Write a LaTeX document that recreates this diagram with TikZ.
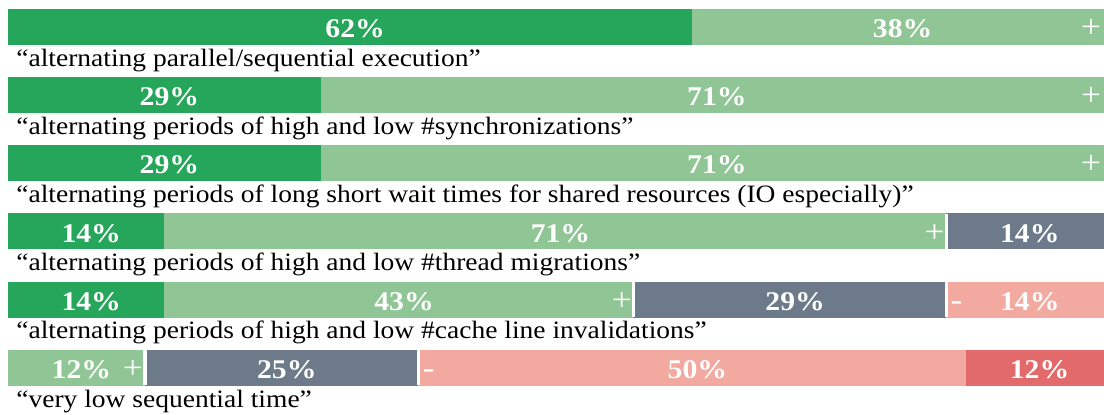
\documentclass[tikz,border=0pt]{standalone}
\usepackage{fontspec}
\setmainfont{Liberation Serif}[FakeStretch=1.1]
\usetikzlibrary{positioning}

\definecolor{posdark}{HTML}{26A65B}
\definecolor{poslight}{HTML}{90C695}
\definecolor{neutral}{HTML}{6C7A89}
\definecolor{neglight}{HTML}{F1A9A0}
\definecolor{negdark}{HTML}{E26A6A}

\begin{document}
\begin{tikzpicture}[x=0.5pt,y=-0.5pt]
  \tikzstyle{seg}=[anchor=west,inner sep=0pt,outer sep=0pt,line width=0.3pt,
    minimum height=17.5pt,text=white,text height=11pt,text depth=0pt,
    execute at begin node=\hspace*{5pt},
    font=\fontsize{13.5}{15}\selectfont\bfseries]
  \tikzstyle{pd}=[seg,fill=posdark,draw=posdark]
  \tikzstyle{pl}=[seg,fill=poslight,draw=poslight]
  \tikzstyle{nt}=[seg,fill=neutral,draw=neutral]
  \tikzstyle{nl}=[seg,fill=neglight,draw=neglight]
  \tikzstyle{nd}=[seg,fill=negdark,draw=negdark]
  \tikzstyle{sign}=[inner sep=0pt,minimum height=17.5pt,text=white,
    text height=11pt,text depth=0pt,font=\fontsize{16}{18}\selectfont]
  \tikzstyle{quote}=[anchor=base west,inner sep=0pt,font=\fontsize{12.5}{14}\selectfont]
  \tikzstyle{gap}=[draw=white,line width=1.75pt]
  \useasboundingbox (0,0) rectangle (1104,414);

  % parallel/sequential
  \node [pd,minimum width=342.19pt] (a1) at (8,26.5) {62\%};
  \node [pl,minimum width=205.31pt,right=0pt of a1] (a2) {38\%};
  \node [sign,xshift=-6pt] (a2p) at (a2.east) {+};
  \node [quote] (qa) at (16,66) {``alternating parallel/sequential execution''};

  % synchronizations
  \node [pd,minimum width=156.43pt] (b1) at (8,94.7) {29\%};
  \node [pl,minimum width=391.07pt,right=0pt of b1] (b2) {71\%};
  \node [sign,xshift=-6pt] (b2p) at (b2.east) {+};
  \node [quote] (qb) at (16,134.2) {``alternating periods of high and low \#synchronizations''};

  % wait times
  \node [pd,minimum width=156.43pt] (c1) at (8,162.9) {29\%};
  \node [pl,minimum width=391.07pt,right=0pt of c1] (c2) {71\%};
  \node [sign,xshift=-6pt] (c2p) at (c2.east) {+};
  \node [quote] (qc) at (16,202.4) {``alternating periods of long short wait times for shared resources (IO especially)''};

  % thread migrations
  \node [pd,minimum width=78.21pt] (d1) at (8,231.1) {14\%};
  \node [pl,minimum width=391.07pt,right=0pt of d1] (d2) {71\%};
  \node [nt,minimum width=78.21pt,right=0pt of d2] (d3) {14\%};
  \node [sign,xshift=-6pt] (d2p) at (d2.east) {+};
  \draw [gap] (d2.north east) -- (d2.south east);
  \node [quote] (qd) at (16,270.6) {``alternating periods of high and low \#thread migrations''};

  % cache line invalidations
  \node [pd,minimum width=78.21pt] (e1) at (8,299.3) {14\%};
  \node [pl,minimum width=234.64pt,right=0pt of e1] (e2) {43\%};
  \node [nt,minimum width=156.43pt,right=0pt of e2] (e3) {29\%};
  \node [nl,minimum width=78.21pt,right=0pt of e3] (e4) {14\%};
  \node [sign,xshift=-6pt] (e2p) at (e2.east) {+};
  \node [sign,xshift=5pt] (e4m) at (e4.west) {-};
  \draw [gap] (e2.north east) -- (e2.south east);
  \draw [gap] (e3.north east) -- (e3.south east);
  \node [quote] (qe) at (16,338.8) {``alternating periods of high and low \#cache line invalidations''};

  % sequential time
  \node [pl,minimum width=68.44pt] (f1) at (8,367.5) {12\%};
  \node [nt,minimum width=136.88pt,right=0pt of f1] (f2) {25\%};
  \node [nl,minimum width=273.75pt,right=0pt of f2] (f3) {50\%};
  \node [nd,minimum width=68.44pt,right=0pt of f3] (f4) {12\%};
  \node [sign,xshift=-6pt] (f1p) at (f1.east) {+};
  \node [sign,xshift=5pt] (f3m) at (f3.west) {-};
  \draw [gap] (f1.north east) -- (f1.south east);
  \draw [gap] (f2.north east) -- (f2.south east);
  \node [quote] (qf) at (16,407) {``very low sequential time''};
\end{tikzpicture}
\end{document}
